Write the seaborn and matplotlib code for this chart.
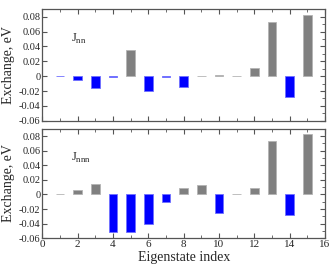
import numpy as np
import pandas as pd
import seaborn as sns
from matplotlib import pyplot as plt
from matplotlib.ticker import MultipleLocator

# eigenstate index and exchange values (eV)
states = list(range(1, 16))
j_nn = [-0.0004, -0.0054, -0.0154, -0.0006, 0.0346, -0.0199, -0.0006, -0.014,
        0.0006, 0.0015, 0.0004, 0.0108, 0.0734, -0.0276, 0.0828]
j_nnn = [0.0004, 0.0057, 0.0148, -0.0513, -0.052, -0.040, -0.010, 0.0093,
         0.013, -0.026, 0.0004, 0.009, 0.0736, -0.028, 0.083]
panel_labels = [r"J$_{\mathregular{nn}}$", r"J$_{\mathregular{nnn}}$"]
ytick_vals = [-0.06, -0.04, -0.02, 0, 0.02, 0.04, 0.06, 0.08]
ytick_text = ["-0.06", "-0.04", "-0.02", "0", "0.02", "0.04", "0.06", "0.08"]
xtick_vals = [0, 2, 4, 6, 8, 10, 12, 14, 16]

sns.set_style("ticks")
plt.rcParams["font.family"] = ["Liberation Serif", "DejaVu Serif"]
plt.rcParams["mathtext.fontset"] = "custom"
plt.rcParams["mathtext.rm"] = "Liberation Serif"

fig = plt.figure(figsize=(3.34, 2.66), dpi=100)
ax1 = fig.add_axes([0.127, 0.546, 0.846, 0.419])
ax2 = fig.add_axes([0.127, 0.104, 0.846, 0.412])

edge_col = {"neg": "#7070ff", "pos": "#b4b4b4"}
for ax, vals, lab in [(ax1, j_nn, panel_labels[0]), (ax2, j_nnn, panel_labels[1])]:
    df = pd.DataFrame({"state": states, "J": vals})
    df["sign"] = np.where(df["J"] < 0, "neg", "pos")
    sns.barplot(data=df, x="state", y="J", hue="sign", native_scale=True,
                palette={"neg": "#0000ff", "pos": "#808080"}, dodge=False,
                width=0.5, legend=False, ax=ax, saturation=1, linewidth=0.6)
    for p in ax.patches:
        p.set_edgecolor(edge_col["neg"] if p.get_height() < 0 else edge_col["pos"])
    ax.set_xlim(0, 16)
    ax.set_ylim(-0.06, 0.09)
    ax.set_yticks(ytick_vals)
    ax.set_yticklabels(ytick_text)
    ax.yaxis.set_minor_locator(MultipleLocator(0.01))
    ax.xaxis.set_minor_locator(MultipleLocator(1))
    ax.set_xticks(xtick_vals)
    ax.tick_params(which="both", direction="in", top=True, right=True,
                   labelsize=7.5, color="#555555", pad=1.5)
    ax.tick_params(axis="x", labelsize=8)
    ax.tick_params(which="major", length=3.5, width=0.8)
    ax.tick_params(which="minor", length=2, width=0.6)
    ax.tick_params(axis="y", which="minor", left=False)
    for s in ax.spines.values():
        s.set_color("#555555")
        s.set_linewidth(0.9)
    ax.set_ylabel("Exchange, eV", fontsize=10, labelpad=3)
    ax.set_xlabel("")
    ax.text(1.6, 0.046, lab, fontsize=9)

ax1.tick_params(axis="x", labelbottom=False)
ax2.set_xlabel("Eigenstate index", fontsize=10, labelpad=1)

plt.savefig("out.png", dpi=100)
plt.close()
